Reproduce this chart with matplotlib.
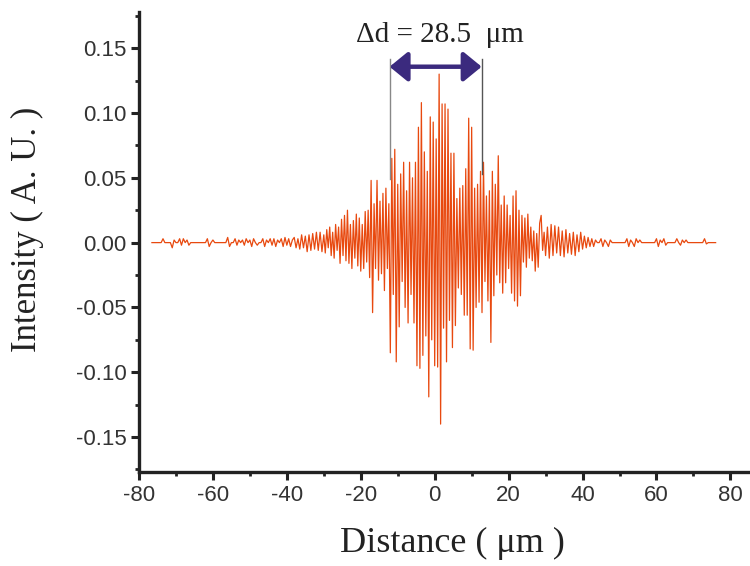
import numpy as np
import matplotlib
matplotlib.use("Agg")
import matplotlib.pyplot as plt
from matplotlib.ticker import MultipleLocator, FormatStrFormatter

# interferogram samples
# left tail: -76.5 .. -30.5 um, 0.5 um spacing
left_tail = [0, 0, 0, 0, 0, 0, 0.003, 0, 0, 0,
             0, -0.004, 0.002, 0, 0, 0.003, -0.002, 0.003, 0, 0.002,
             -0.002, 0, 0, 0, 0, 0, 0, 0, 0, 0,
             0.003, -0.003, 0, 0.002, 0, 0, 0, 0, 0, 0,
             0, 0.004, -0.003, 0, 0, 0.003, -0.002, 0.002, 0, 0.002,
             -0.002, 0.003, 0, 0.002, -0.003, 0.003, 0, -0.002, 0, 0,
             0.003, -0.003, 0.002, 0, 0.003, -0.002, 0.003, -0.003, 0.002, 0,
             0.003, -0.003, 0.004, -0.002, 0.003, -0.003, 0.002, 0.004, -0.004, 0.003,
             -0.005, 0.006, -0.004, 0.005, -0.007, 0.006, -0.006, 0.007, -0.005, 0.008,
             -0.006, 0.008, -0.007]
# core: -30 .. 30 um, 0.4 um spacing
core = [0.006, -0.008, 0.010, -0.004, 0.012, -0.010, 0.008, -0.012, 0.014, -0.006,
        0.012, -0.016, 0.018, -0.010, 0.021, -0.014, 0.025, -0.016, 0.014, -0.020,
        0.017, -0.012, 0.022, -0.018, 0.019, -0.022, 0.014, -0.020, 0.024, -0.015,
        0.025, -0.027, 0.048, -0.054, 0.030, -0.020, 0.048, -0.029, 0.032, -0.024,
        0.038, -0.037, 0.042, -0.020, 0.030, -0.085, 0.065, -0.040, 0.072, -0.092,
        0.045, -0.065, 0.053, -0.030, 0.062, -0.050, 0.040, -0.062, 0.062, -0.040,
        0.050, -0.062, 0.062, -0.095, 0.089, -0.097, 0.108, -0.087, 0.070, -0.072,
        0.055, -0.119, 0.097, -0.075, 0.093, -0.095, 0.080, -0.096, 0.130, -0.140,
        0.107, -0.066, 0.107, -0.092, 0.103, -0.060, 0.069, -0.081, 0.069, -0.064,
        0.034, -0.035, 0.042, -0.040, 0.044, -0.056, 0.057, -0.056, 0.096, -0.082,
        0.089, -0.083, 0.042, -0.050, 0.045, -0.046, 0.055, -0.054, 0.062, -0.030,
        0.036, -0.045, 0.040, -0.077, 0.055, -0.041, 0.045, -0.025, 0.067, -0.031,
        0.029, -0.039, 0.036, -0.031, 0.029, -0.020, 0.021, -0.039, 0.036, -0.045,
        0.040, -0.049, 0.025, -0.041, 0.021, -0.015, 0.019, -0.019, 0.022, -0.012,
        0.012, -0.014, 0.009, -0.022, 0.007, -0.019, 0.015, 0.021, -0.006, 0.008,
        -0.010]
# right tail: 30.5 .. 76 um, 0.5 um spacing
right_tail = [0.012, -0.012, 0.014, -0.010, 0.013, -0.008, 0.012, -0.010, 0.009, -0.011,
              0.010, -0.008, 0.007, -0.009, 0.008, -0.010, 0.006, -0.007, 0.008, -0.005,
              0.005, -0.004, 0.004, -0.003, 0.003, -0.003, 0.002, 0, 0, 0.003,
              -0.003, 0.002, 0, -0.003, 0.002, 0, 0, 0, 0, 0,
              0, 0, 0, 0.003, -0.003, 0.002, 0, -0.003, 0.003, 0,
              0.002, 0, 0, 0, 0, 0, 0, 0, 0, 0.003,
              -0.003, 0.002, 0, 0.003, -0.002, 0, 0, 0, 0, 0,
              0.003, 0, -0.002, 0.002, 0, 0.002, 0, 0, 0, 0,
              0, 0, 0, 0, 0, 0.003, -0.001, 0, 0, 0,
              0, 0]

x_left = np.arange(-76.5, -30.4, 0.5)
x_core = np.arange(-30, 30.01, 0.4)
x_right = np.arange(30.5, 76.01, 0.5)
x = np.concatenate([x_left, x_core, x_right])
y = np.concatenate([left_tail, core, right_tail])

# annotation: the two marker positions and the label
mark_left, mark_right = -12.2, 12.7
delta_label = "Δd = 28.5  μm"

fig = plt.figure(figsize=(7.5, 5.66), dpi=100)
ax = fig.add_axes([0.1853, 0.166, 0.8147, 0.813])

ax.plot(x, y, color='#e8490f', lw=0.9)

spine_col = '#222222'
ax.set_xlim(-80, 85.3)
ax.set_ylim(-0.177, 0.178)
ax.spines['top'].set_visible(False)
ax.spines['right'].set_visible(False)
for s in ['left', 'bottom']:
    ax.spines[s].set_linewidth(2.4)
    ax.spines[s].set_color(spine_col)

ax.xaxis.set_major_locator(MultipleLocator(20))
ax.xaxis.set_minor_locator(MultipleLocator(10))
ax.yaxis.set_major_locator(MultipleLocator(0.05))
ax.yaxis.set_minor_locator(MultipleLocator(0.025))
ax.yaxis.set_major_formatter(FormatStrFormatter('%.2f'))
ax.xaxis.set_major_formatter(FormatStrFormatter('%d'))
ax.tick_params(which='major', direction='out', length=6, width=2.2, color=spine_col,
               labelsize=16, labelcolor='#333333', pad=3)
ax.tick_params(which='minor', direction='out', length=3, width=2.0, color=spine_col)
for lab in ax.get_xticklabels() + ax.get_yticklabels():
    lab.set_family('Liberation Sans')

# marker lines and double arrow
ax.plot([mark_left, mark_left], [0.049, 0.142], color='#888888', lw=1)
ax.plot([mark_right, mark_right], [0.053, 0.142], color='#555555', lw=1)
ax.annotate('', xy=(mark_right, 0.1357), xytext=(mark_left, 0.1357),
            arrowprops=dict(arrowstyle='<|-|>,head_length=0.55,head_width=0.45',
                            color='#3b2a7e', lw=3.2, mutation_scale=20,
                            shrinkA=0, shrinkB=0))
ax.text(1.35, 0.160, delta_label, family='Liberation Serif', fontsize=21,
        ha='center', va='center', color='#222222')

fig.text(0.603, 0.040, 'Distance ( μm )', family='Liberation Serif', fontsize=26,
         ha='center', va='center', color='#222222')
fig.text(0.037, 0.594, 'Intensity ( A. U. )', family='Liberation Serif', fontsize=25,
         ha='center', va='center', rotation=90, color='#222222')

fig.savefig('out.png', dpi=100)
